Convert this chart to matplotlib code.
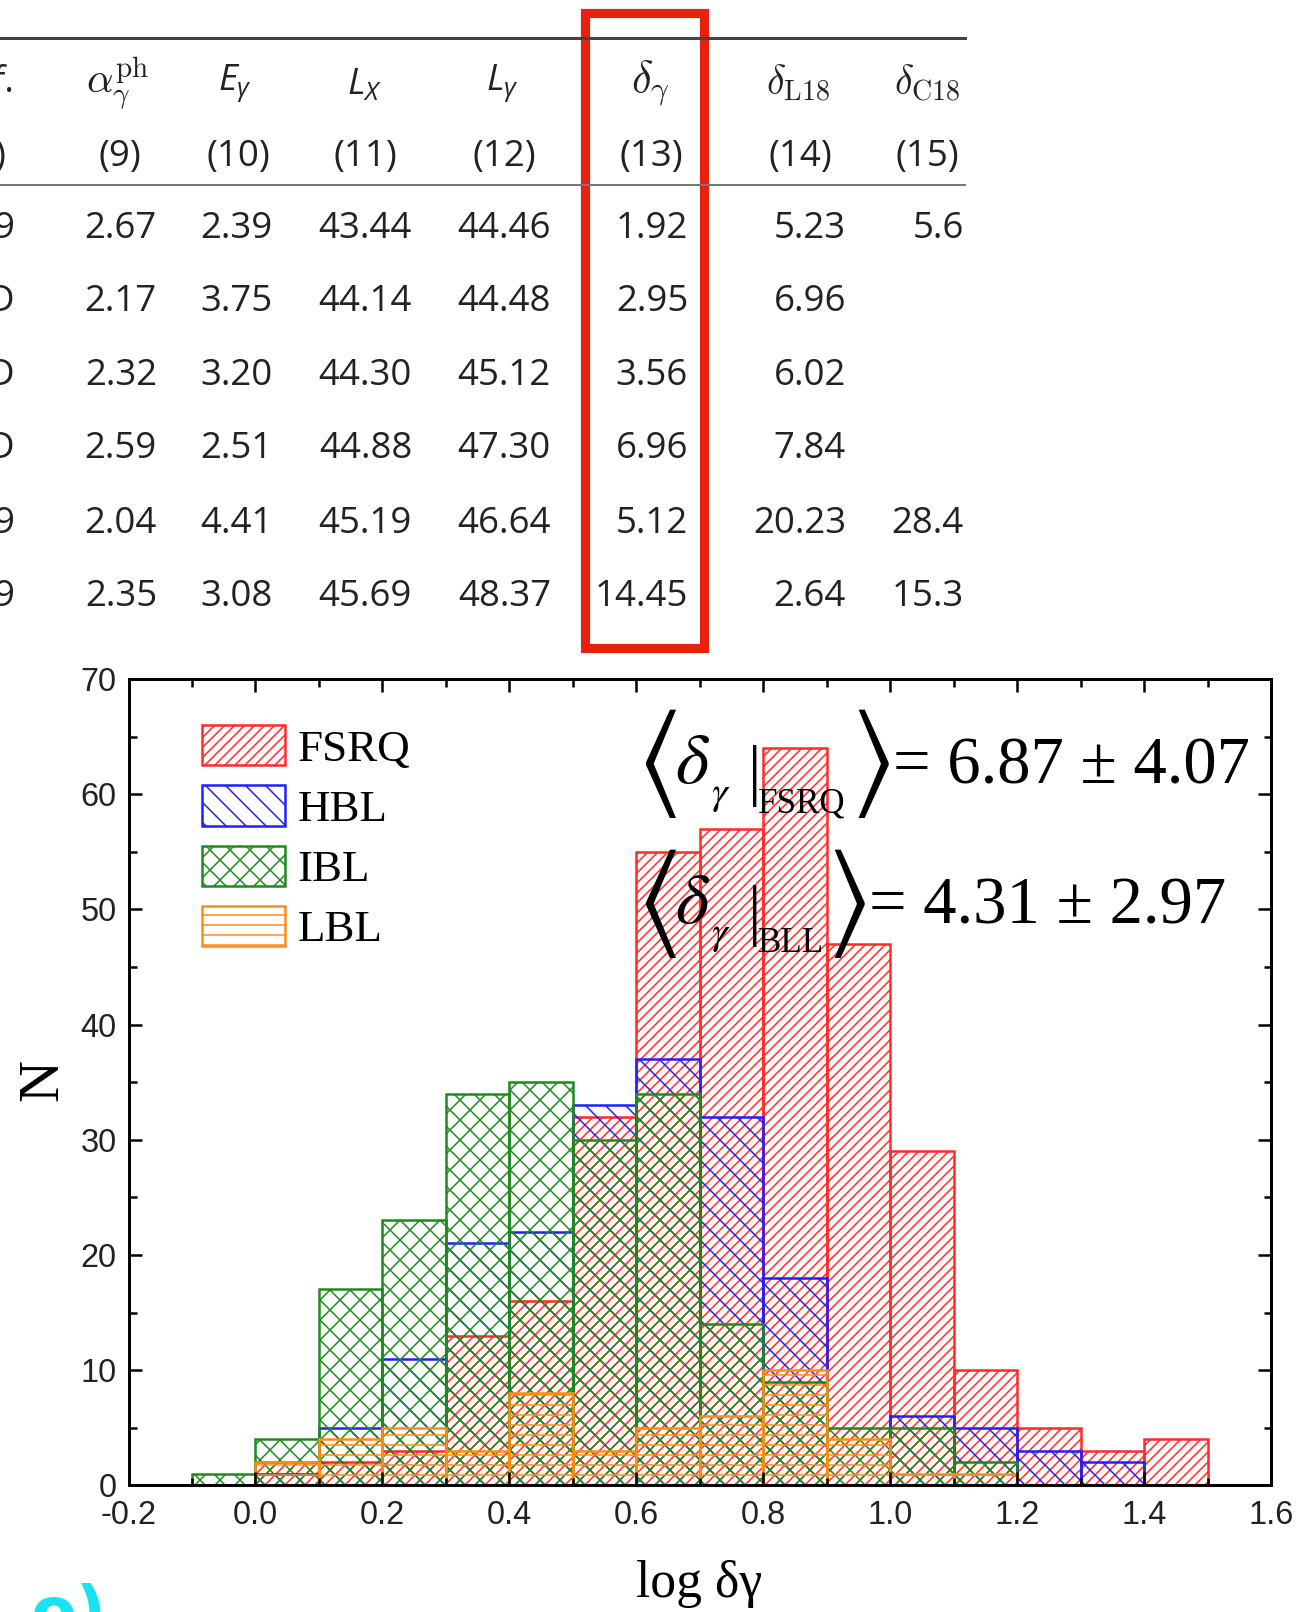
import matplotlib
matplotlib.use('Agg')
import matplotlib.pyplot as plt
from matplotlib.patches import Patch, Rectangle
from matplotlib.lines import Line2D
from matplotlib.ticker import MultipleLocator, FormatStrFormatter

DPI = 120
W, H = 1308, 1612

# ---------------- data ----------------
bin_left = [-0.1, 0.0, 0.1, 0.2, 0.3, 0.4, 0.5, 0.6, 0.7, 0.8, 0.9, 1.0, 1.1, 1.2, 1.3, 1.4]
bin_width = 0.1
fsrq = [0, 2, 2, 3, 13, 16, 32, 55, 57, 64, 47, 29, 10, 5, 3, 4]
hbl = [0, 1, 5, 11, 21, 22, 33, 37, 32, 18, 0, 6, 5, 3, 2, 0]
ibl = [1, 4, 17, 23, 34, 35, 30, 34, 14, 9, 5, 5, 2, 0, 0, 0]
lbl = [0, 2, 4, 5, 3, 8, 3, 5, 6, 10, 4, 1, 1, 0, 0, 0]
class_names = ['FSRQ', 'HBL', 'IBL', 'LBL']
class_colors = ['#ff2a2a', '#2020ff', '#1e8a1e', '#ff8c1a']
class_hatches = ['////', '\\\\', 'xx', '--']

mean_fsrq = '6.87'
err_fsrq = '4.07'
mean_bll = '4.31'
err_bll = '2.97'

x_ticks = [-0.2, 0.0, 0.2, 0.4, 0.6, 0.8, 1.0, 1.2, 1.4, 1.6]
y_ticks = [0, 10, 20, 30, 40, 50, 60, 70]

table_headers = [r'$\alpha_{\gamma}^{\rm ph}$', r'$E_{\gamma}$', r'$L_{X}$', r'$L_{\gamma}$',
                 r'$\delta_{\gamma}$', r'$\delta_{\rm L18}$', r'$\delta_{\rm C18}$']
header_math = ['cm', 'custom', 'custom', 'custom', 'cm', 'cm', 'cm']
header_size = [25, 22, 22, 22, 27, 24, 24]
col_numbers = ['(9)', '(10)', '(11)', '(12)', '(13)', '(14)', '(15)']
cut_col = ['9', 'D', 'D', 'D', '9', '9']
alpha_ph = ['2.67', '2.17', '2.32', '2.59', '2.04', '2.35']
e_gamma = ['2.39', '3.75', '3.20', '2.51', '4.41', '3.08']
l_x = ['43.44', '44.14', '44.30', '44.88', '45.19', '45.69']
l_gamma = ['44.46', '44.48', '45.12', '47.30', '46.64', '48.37']
delta_gamma = ['1.92', '2.95', '3.56', '6.96', '5.12', '14.45']
delta_l18 = ['5.23', '6.96', '6.02', '7.84', '20.23', '2.64']
delta_c18 = ['5.6', '', '', '', '28.4', '15.3']

# ---------------- style ----------------
plt.rcParams['axes.unicode_minus'] = False
plt.rcParams['hatch.linewidth'] = 0.9
plt.rcParams['mathtext.fontset'] = 'custom'
plt.rcParams['mathtext.it'] = 'Open Sans:italic'
plt.rcParams['mathtext.rm'] = 'Open Sans'
plt.rcParams['mathtext.bf'] = 'Open Sans:bold'
plt.rcParams['mathtext.sf'] = 'Open Sans'

fig = plt.figure(figsize=(W / DPI, H / DPI), dpi=DPI)
fig.patch.set_facecolor('white')


def fx(px):
    return px / W


def fy(py):
    return 1 - py / H


# ---------------- table ----------------
fig.add_artist(Line2D([0, fx(965)], [fy(38), fy(38)], color='#444444', lw=1.8))
fig.add_artist(Line2D([0, fx(965)], [fy(185), fy(185)], color='#777777', lw=1.2))

tfont = 'Open Sans'
tsize = 22
tcol = '#222222'
header_y = 83
num_y = 157
row_y = [229, 302, 376, 449, 524, 597]
header_cx = [118, 235, 365, 502, 650, 798, 927]
num_cx = [120, 238, 365, 504, 651, 800, 927]
col_right = [157, 273, 412, 551, 688, 846, 964]
columns = [alpha_ph, e_gamma, l_x, l_gamma, delta_gamma, delta_l18, delta_c18]

fig.text(fx(14), fy(header_y), 'f.', ha='right', va='center', fontsize=tsize, family=tfont, color=tcol)
fig.text(fx(6), fy(num_y), ')', ha='right', va='center', fontsize=tsize, family=tfont, color=tcol)
for r, v in zip(row_y, cut_col):
    fig.text(fx(14), fy(r), v, ha='right', va='center', fontsize=tsize, family=tfont, color=tcol)

for cx, h, mf, hs in zip(header_cx, table_headers, header_math, header_size):
    fig.text(fx(cx), fy(header_y), h, ha='center', va='center', fontsize=hs,
             math_fontfamily=mf, color=tcol)
for cx, n in zip(num_cx, col_numbers):
    fig.text(fx(cx), fy(num_y), n, ha='center', va='center', fontsize=tsize, family=tfont, color=tcol)
for xr, col in zip(col_right, columns):
    for r, v in zip(row_y, col):
        if v:
            fig.text(fx(xr), fy(r), v, ha='right', va='center', fontsize=tsize, family=tfont, color=tcol)

fig.add_artist(Rectangle((fx(585), fy(648)), fx(704) - fx(585), fy(13) - fy(648),
                         fill=False, edgecolor='#e8200e', lw=5.5, transform=fig.transFigure))

# ---------------- histogram ----------------
ax = fig.add_axes([fx(128.5), fy(1485.3), fx(1271) - fx(128.5), fy(679) - fy(1485.3)])
ax.set_xlim(-0.2, 1.6)
ax.set_ylim(0, 70)

for name, vals, col, hat in zip(class_names, [fsrq, hbl, ibl, lbl], class_colors, class_hatches):
    xs = [x for x, v in zip(bin_left, vals) if v > 0]
    hs = [v for v in vals if v > 0]
    ax.bar(xs, hs, width=bin_width, align='edge', fill=False, edgecolor=col,
           hatch=hat, linewidth=1.5, label=name)

ax.set_xticks(x_ticks)
ax.set_yticks(y_ticks)
ax.xaxis.set_minor_locator(MultipleLocator(0.1))
ax.yaxis.set_minor_locator(MultipleLocator(5))
ax.xaxis.set_major_formatter(FormatStrFormatter('%.1f'))
ax.tick_params(which='both', direction='in', top=True, right=True, width=1.5)
ax.tick_params(which='major', length=8)
ax.tick_params(which='minor', length=4.5)
ax.tick_params(axis='y', pad=7)
ax.tick_params(axis='x', pad=9)
for lab in ax.get_xticklabels() + ax.get_yticklabels():
    lab.set_fontfamily('Liberation Sans')
    lab.set_fontsize(19.5)
    lab.set_color('#222222')
for s in ax.spines.values():
    s.set_linewidth(1.8)

fig.text(fx(43), fy(1080), 'N', rotation=90, ha='center', va='center',
         family='Liberation Serif', fontsize=35)
fig.text(fx(699), fy(1597), 'log δγ', ha='center', va='baseline', family='Liberation Serif', fontsize=31)

handles = [Patch(facecolor='none', edgecolor=c, hatch=h, linewidth=1.5, label=n)
           for n, c, h in zip(class_names, class_colors, class_hatches)]
leg = ax.legend(handles=handles, loc='upper left', bbox_to_anchor=(0.0639, 0.943), frameon=False,
                borderpad=0, borderaxespad=0, handlelength=1.85, handleheight=1.0,
                handletextpad=0.28, labelspacing=0.35,
                prop={'family': 'Liberation Serif', 'size': 27})

# annotation (mean values), built from pieces like the source layout
line_dy = 0.1736
for k, (sub, rx, ex, mean, err) in enumerate([('FSRQ', 0.6318, 0.6688, mean_fsrq, err_fsrq),
                                              ('BLL', 0.6108, 0.6481, mean_bll, err_bll)]):
    base = 0.8706 - k * line_dy
    mid = 0.8968 - k * line_dy
    t = ax.transAxes
    ax.text(0.4445, mid, r'$\langle$', transform=t, ha='left', va='center',
            fontsize=70, math_fontfamily='stix')
    ax.text(0.4785, base, r'$\delta$', transform=t, ha='left', va='baseline',
            fontsize=43, math_fontfamily='stix')
    ax.text(0.5095, base - 0.0257, r'$\gamma$', transform=t, ha='left', va='baseline',
            fontsize=24, math_fontfamily='stix')
    ax.text(0.5419, base - 0.0117, '|', transform=t, ha='left', va='baseline',
            fontsize=40, family='Liberation Serif')
    ax.text(0.5509, base - 0.0357, sub, transform=t, ha='left', va='baseline',
            fontsize=21, family='Liberation Serif')
    ax.text(rx, mid, r'$\rangle$', transform=t, ha='left', va='center',
            fontsize=70, math_fontfamily='stix')
    ax.text(ex, base, '= ' + mean + ' ± ' + err, transform=t, ha='left', va='baseline',
            fontsize=40, family='Liberation Serif')

# stray cyan pen mark at the lower-left corner of the source image
fig.text(fx(30), fy(1583), 'o)', ha='left', va='top', color='#19e3f0',
         fontsize=40, fontweight='bold', family='DejaVu Sans')

fig.savefig('out.png', dpi=DPI)
